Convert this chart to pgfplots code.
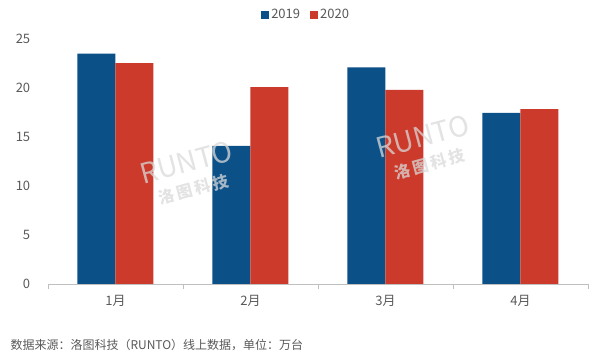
\documentclass[border=0pt]{standalone}
\usepackage{pgfplots}
\pgfplotsset{compat=1.18}
\usepackage{fontspec}
\setmainfont{Noto Sans CJK SC}
\definecolor{c19}{HTML}{0B5087}
\definecolor{c20}{HTML}{CB3A2A}
\definecolor{axgray}{HTML}{BFBFBF}
\definecolor{txtgray}{HTML}{595959}
\begin{document}
\begin{tikzpicture}
\useasboundingbox (-48pt,-75pt) rectangle (547pt,284pt);
\begin{axis}[
  at={(0pt,0pt)}, anchor=south west,
  scale only axis, width=540pt, height=245pt,
  ybar=0pt, bar width=38pt,
  xmin=-0.5, xmax=3.5, ymin=0, ymax=25,
  xtick={0,1,2,3}, xticklabels={1月,2月,3月,4月},
  minor xtick={-0.5,0.5,1.5,2.5,3.5},
  major x tick style={draw=none},
  minor x tick style={axgray, thin},
  minor tick length=5pt,
  tick align=outside,
  ytick={0,5,10,15,20,25},
  ytick style={draw=none},
  axis x line*=bottom, axis y line*=left,
  x axis line style={axgray, thin, -},
  y axis line style={draw=none},
  tick label style={font=\fontsize{13}{15}\selectfont, text=txtgray},
  /pgf/number format/assume math mode=true,
  xticklabel style={yshift=-3pt},
  yticklabel style={xshift=-10pt},
  legend style={at={(0.478,1.098)}, anchor=center, draw=none, legend columns=2,
    font=\fontsize{13}{15}\selectfont, text=txtgray,
    /tikz/every even column/.append style={column sep=8pt}},
  legend image code/.code={\fill[#1] (0pt,-4pt) rectangle (8pt,4pt);},
  clip=false,
]
\addplot[fill=c19, draw=none] coordinates {(0,23.5) (1,14.1) (2,22.1) (3,17.45)};
\addplot[fill=c20, draw=none] coordinates {(0,22.55) (1,20.1) (2,19.8) (3,17.85)};
\legend{2019,2020}
\node[rotate=15, text=gray!30, opacity=0.75, align=center, font=\itshape\fontsize{28}{28}\selectfont] at (axis cs:0.55,11.2) {RUNTO\\[-4pt]{\bfseries\fontsize{16}{18}\selectfont 洛\,图\,科\,技}};
\node[rotate=15, text=gray!30, opacity=0.75, align=center, font=\itshape\fontsize{28}{28}\selectfont] at (axis cs:2.3,13.8) {RUNTO\\[-4pt]{\bfseries\fontsize{16}{18}\selectfont 洛\,图\,科\,技}};
\end{axis}
\node[anchor=west, text=txtgray, font=\fontsize{12}{14}\selectfont] at (-41pt,-61pt) {数据来源：洛图科技（RUNTO）线上数据，单位：万台};
\end{tikzpicture}
\end{document}
